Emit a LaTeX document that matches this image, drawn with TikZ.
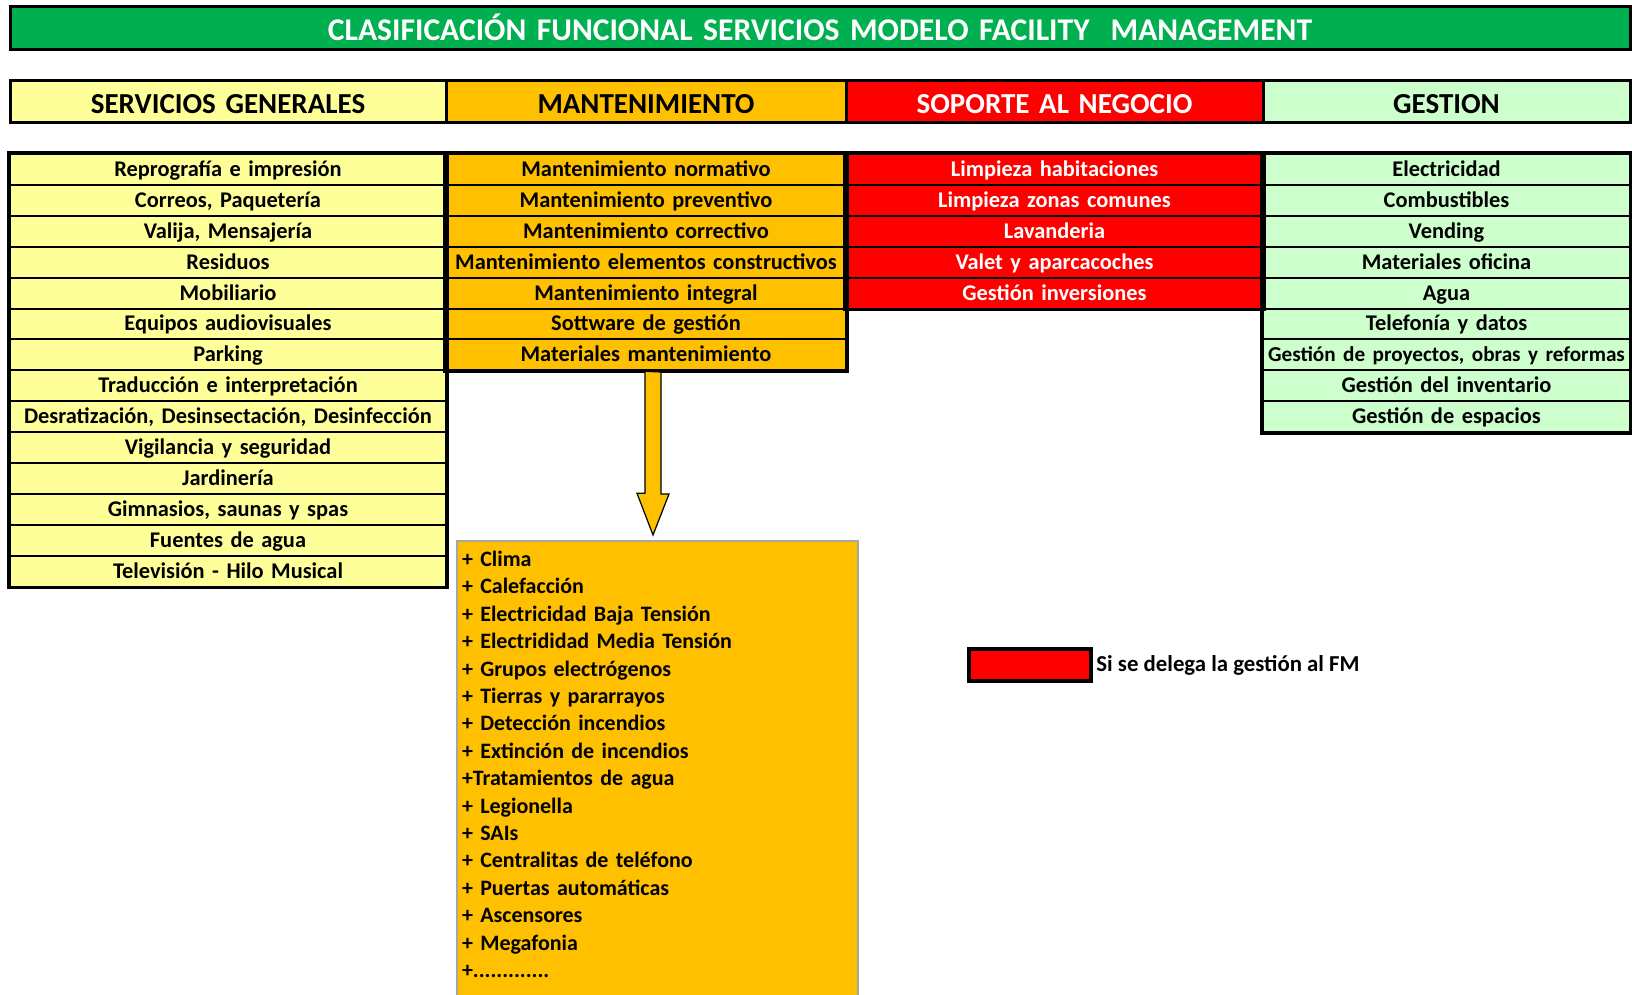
\documentclass[tikz,border=0pt]{standalone}
\usepackage{fontspec}
\setmainfont{Carlito}
\usetikzlibrary{positioning,calc}

\definecolor{titlefill}{HTML}{00B050}
\definecolor{sgfill}{HTML}{FFFF99}
\definecolor{manfill}{HTML}{FFC000}
\definecolor{sopfill}{HTML}{FF0000}
\definecolor{gesfill}{HTML}{CCFFCC}
\definecolor{boxline}{HTML}{A6A6A6}

\tikzset{
	cell/.style={draw=black, line width=1pt, inner sep=0pt, minimum height=15.45pt, text height=9pt, text depth=2pt, align=center, font=\bfseries\fontsize{11.2}{12}\selectfont},
	head/.style={draw=black, line width=1.5pt, inner sep=0pt, minimum height=20.75pt, text height=12.5pt, text depth=0.5pt, align=center, font=\bfseries\fontsize{14.5}{16}\selectfont},
	frame/.style={draw=black, line width=1.7pt},
	sgcol/.style={fill=sgfill, text width=218pt},
	mancol/.style={fill=manfill, text width=200pt},
	sopcol/.style={fill=sopfill, text=white, text width=208.5pt},
	gescol/.style={fill=gesfill, text width=183.5pt},
	fatarrow/.style={draw=black, line width=0.6pt, fill=manfill, line join=miter},
}

\begin{document}
\begin{tikzpicture}[x=0.5pt, y=-0.5pt]
	\useasboundingbox (0,0) rectangle (1632,995);

	\node[head, fill=titlefill, text=white, text width=810pt, minimum height=21.5pt, font=\bfseries\fontsize{15.8}{17}\selectfont] (title) at (820,28.5) {CLASIFICACIÓN FUNCIONAL SERVICIOS MODELO FACILITY~ MANAGEMENT};

	\node[head, sgcol] (hsg) at (228,101.75) {SERVICIOS GENERALES};
	\node[head, mancol] (hman) at (646,101.75) {MANTENIMIENTO};
	\node[head, sopcol] (hsop) at (1054.5,101.75) {SOPORTE AL NEGOCIO};
	\node[head, gescol] (hges) at (1446.5,101.75) {GESTION};

	\foreach \t [count=\i] in {Reprografía e impresión, {Correos, Paquetería}, {Valija, Mensajería}, Residuos, Mobiliario, Equipos audiovisuales, Parking, Traducción e interpretación, {Desratización, Desinsectación, Desinfección}, Vigilancia y seguridad, Jardinería, {Gimnasios, saunas y spas}, Fuentes de agua, Televisión - Hilo Musical}
	{
		\node[cell, sgcol] (sg\i) at (228,138.55+30.9*\i) {\t};
	};
	\foreach \t [count=\i] in {Mantenimiento normativo, Mantenimiento preventivo, Mantenimiento correctivo, Mantenimiento elementos constructivos, Mantenimiento integral, Sottware de gestión, Materiales mantenimiento}
	{
		\node[cell, mancol] (man\i) at (646,138.55+30.9*\i) {\t};
	};
	\foreach \t [count=\i] in {Limpieza habitaciones, Limpieza zonas comunes, Lavanderia, Valet y aparcacoches, Gestión inversiones}
	{
		\node[cell, sopcol] (sop\i) at (1054.5,138.55+30.9*\i) {\t};
	};
	\foreach \t [count=\i] in {Electricidad, Combustibles, Vending, Materiales oficina, Agua, Telefonía y datos, {\fontsize{10.6}{12}\selectfont\mbox{Gestión de proyectos, obras y reformas}}, Gestión del inventario, Gestión de espacios}
	{
		\node[cell, gescol] (ges\i) at (1446.5,138.55+30.9*\i) {\t};
	};

	\draw[frame] (sg1.north west) rectangle (sg14.south east);
	\draw[frame] (man1.north west) rectangle (man7.south east);
	\draw[frame] (sop1.north west) rectangle (sop5.south east);
	\draw[frame] (ges1.north west) rectangle (ges9.south east);

	% lista de instalaciones
	\node[fill=manfill, draw=boxline, line width=1pt, anchor=north west, inner xsep=2.5pt, inner ysep=5pt, text width=195.5pt, align=left, font=\bfseries\fontsize{11}{13.7}\selectfont] (mbox) at (456,540) {+ Clima\\+ Calefacción\\+ Electricidad Baja Tensión\\+ Electrididad Media Tensión\\+ Grupos electrógenos\\+ Tierras y pararrayos\\+ Detección incendios\\+ Extinción de incendios\\+Tratamientos de agua\\+ Legionella\\+ SAIs\\+ Centralitas de teléfono\\+ Puertas automáticas\\+ Ascensores\\+ Megafonia\\+.............\\ ~};

	\path (man7.south) ++(7,0) coordinate (a0);
	\coordinate (a1) at ($(mbox.north -| a0)+(0,-5)$);
	\draw[fatarrow] (a0) ++(-8,0) -- ++(0,122) -- ++(-8,0) -- (a1) -- ++(16,-41) -- ++(-8,0) -- ++(0,-122) -- cycle;

	\node[draw=black, line width=2pt, fill=sopfill, minimum width=61pt, minimum height=16pt, inner sep=0pt] (leg) at (1030,665) {};
	\node[right=1.5pt of leg, inner sep=0pt, font=\bfseries\fontsize{11.4}{13}\selectfont] (legtxt) {Si se delega la gestión al FM};
\end{tikzpicture}
\end{document}
